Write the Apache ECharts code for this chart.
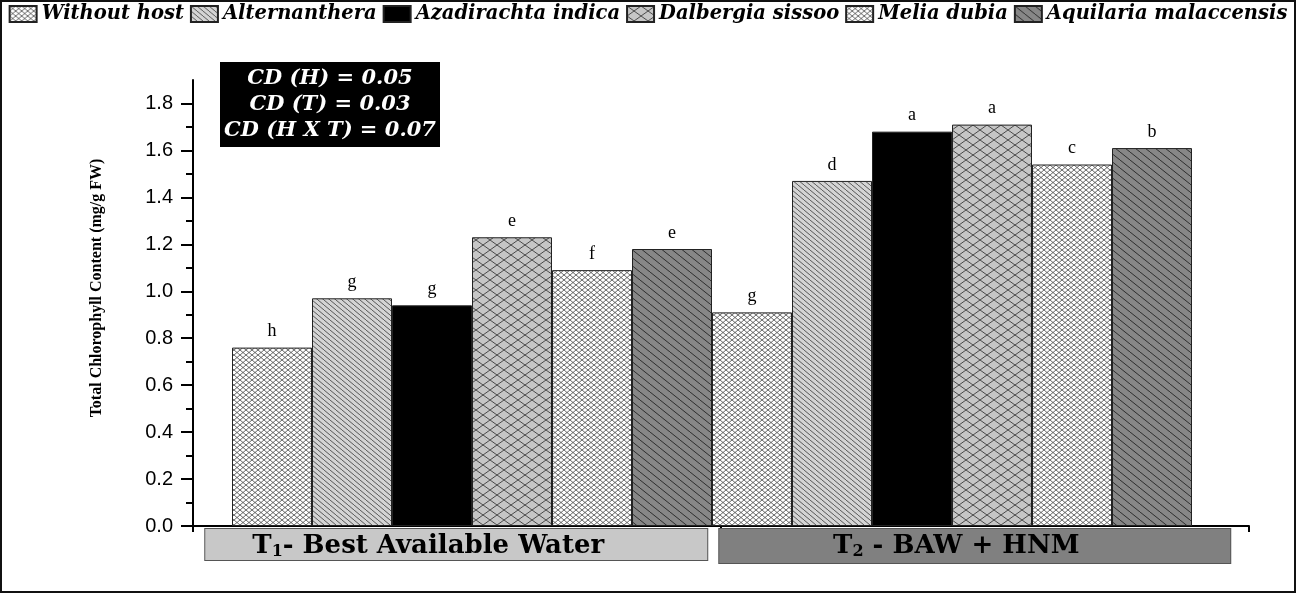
<!DOCTYPE html>
<html>
<head>
<meta charset="utf-8">
<script src="https://cdn.jsdelivr.net/npm/echarts@6/dist/echarts.min.js"></script>
<style>
html,body{margin:0;padding:0;background:#fff;}
#wrap{position:relative;width:1296px;height:593px;}
#chart{position:absolute;left:0;top:0;width:1296px;height:593px;}
#frame{position:absolute;left:0;top:0;width:1296px;height:593px;box-sizing:border-box;border:2px solid #111;pointer-events:none;}
</style>
</head>
<body>
<div id="wrap"><div id="chart"></div><div id="frame"></div></div>
<script>
// ---- data ----
const categories = ['T1- Best Available Water', 'T2 - BAW + HNM'];
const hosts = ['Without host', 'Alternanthera', 'Azadirachta indica', 'Dalbergia sissoo', 'Melia dubia', 'Aquilaria malaccensis'];
const withoutHost   = [0.76, 0.91];
const alternanthera = [0.97, 1.47];
const azadirachta   = [0.94, 1.68];
const dalbergia     = [1.23, 1.71];
const melia         = [1.09, 1.54];
const aquilaria     = [1.18, 1.61];
const lettersWithoutHost   = ['h', 'g'];
const lettersAlternanthera = ['g', 'd'];
const lettersAzadirachta   = ['g', 'a'];
const lettersDalbergia     = ['e', 'a'];
const lettersMelia         = ['f', 'c'];
const lettersAquilaria     = ['e', 'b'];
const cdLines = ['CD (H) = 0.05', 'CD (T) = 0.03', 'CD (H X T) = 0.07'];
const yAxisTitle = 'Total Chlorophyll Content (mg/g FW)';

// ---- patterns ----
function pattern(bg, fg, w, h, kind, lw) {
  const c = document.createElement('canvas');
  c.width = w; c.height = h;
  const ctx = c.getContext('2d');
  ctx.fillStyle = bg; ctx.fillRect(0, 0, w, h);
  ctx.strokeStyle = fg; ctx.lineWidth = lw;
  ctx.beginPath();
  for (let k = -1; k <= 1; k++) {
    ctx.moveTo(k * w, 0); ctx.lineTo(k * w + w, h);
    if (kind === 'cross') { ctx.moveTo(k * w, h); ctx.lineTo(k * w + w, 0); }
  }
  ctx.stroke();
  return { image: c, repeat: 'repeat' };
}
const fills = [
  pattern('#ffffff', '#444444', 6, 5, 'cross', 0.8),
  pattern('#d4d4d4', '#4a4a4a', 6, 5, 'diag', 0.9),
  '#000000',
  pattern('#c6c6c6', '#4a4a4a', 14, 10, 'cross', 1),
  pattern('#ffffff', '#444444', 6, 5, 'cross', 0.8),
  pattern('#878787', '#2e2e2e', 10, 8, 'diag', 1)
];
const values = [withoutHost, alternanthera, azadirachta, dalbergia, melia, aquilaria];
const letters = [lettersWithoutHost, lettersAlternanthera, lettersAzadirachta, lettersDalbergia, lettersMelia, lettersAquilaria];

const series = hosts.map((name, i) => ({
  name: name,
  type: 'bar',
  xAxisIndex: 1,
  yAxisIndex: 1,
  barGap: '0%',
  barCategoryGap: '0%',
  data: values[i],
  itemStyle: { color: fills[i], borderColor: '#222', borderWidth: 1 },
  label: {
    show: true, position: 'top', distance: 7,
    fontFamily: 'Liberation Serif', fontSize: 18, color: '#000',
    formatter: p => letters[i][p.dataIndex]
  },
  emphasis: { disabled: true }
}));

const chart = echarts.init(document.getElementById('chart'), null, { renderer: 'canvas' });
const option = {
  animation: false,
  backgroundColor: '#fff',
  legend: {
    top: -1, left: 'center',
    itemWidth: 27, itemHeight: 16, itemGap: 6,
    icon: 'rect',
    textStyle: { fontFamily: 'DejaVu Serif', fontStyle: 'italic', fontWeight: 'bold', fontSize: 19.5, color: '#000' },
    data: hosts
  },
  graphic: [{
    type: 'text', left: 220, top: 62,
    style: {
      text: cdLines.map(s => '{a|' + s + '}').join('\n'),
      fill: '#fff', backgroundColor: '#000',
      padding: [4, 8, 3, 8],
      rich: {
        a: { width: 204, align: 'center', fill: '#fff', fontFamily: 'DejaVu Serif', fontStyle: 'italic', fontWeight: 'bold', fontSize: 21, lineHeight: 26 }
      }
    }
  }],
  grid: [
    { left: 193, top: 80, width: 1056, height: 446 },
    { left: 232, top: 80, width: 960, height: 446 },
    { left: 197, top: 103.5, width: 1037, height: 422.5 }
  ],
  xAxis: [{
    type: 'category', gridIndex: 0, data: categories,
    axisLine: { lineStyle: { color: '#000', width: 2 } },
    axisTick: { show: true, length: 6, lineStyle: { color: '#000', width: 2 } },
    axisLabel: { show: false }
  }, {
    type: 'category', gridIndex: 1, data: categories,
    axisLine: { show: false }, axisTick: { show: false }, axisLabel: { show: false }
  }, {
    type: 'category', gridIndex: 2,
    data: [
      { value: categories[0], textStyle: { backgroundColor: '#c8c8c8', width: 446, height: 27, padding: [4, 56, 0, 0] } },
      { value: categories[1], textStyle: { backgroundColor: '#808080', width: 474, height: 30, padding: [4, 37, 0, 0] } }
    ],
    axisLine: { show: false }, axisTick: { show: false },
    axisLabel: {
      margin: 3, align: 'center',
      borderColor: '#555', borderWidth: 1,
      formatter: v => v.replace(/^T(\d)(.*)$/, '{b|T}{s|$1}{b|$2}'),
      rich: {
        b: { fontFamily: 'DejaVu Serif', fontWeight: 'bold', fontSize: 26, color: '#000', lineHeight: 27 },
        s: { fontFamily: 'DejaVu Serif', fontWeight: 'bold', fontSize: 16, color: '#000', lineHeight: 15, verticalAlign: 'bottom' }
      }
    }
  }],
  yAxis: [{
    type: 'value', gridIndex: 0, min: 0, max: 1.9,
    name: yAxisTitle, nameLocation: 'middle', nameGap: 88,
    nameTextStyle: { fontFamily: 'Liberation Serif', fontWeight: 'bold', fontSize: 16, color: '#000', padding: [0, 0, 0, 30] },
    axisLine: { show: true, lineStyle: { color: '#000', width: 2 } },
    axisTick: { show: false }, axisLabel: { show: false }, splitLine: { show: false }
  }, {
    type: 'value', gridIndex: 1, min: 0, max: 1.9, show: false
  }, {
    type: 'value', gridIndex: 2, min: 0, max: 1.8, interval: 0.2, offset: 4,
    axisLine: { show: false },
    axisTick: { show: true, length: 12, lineStyle: { color: '#000', width: 2 } },
    minorTick: { show: true, splitNumber: 2, length: 7, lineStyle: { color: '#000', width: 2 } },
    splitLine: { show: false },
    axisLabel: {
      margin: 20, fontFamily: 'Liberation Sans', fontSize: 20, color: '#000',
      formatter: v => v.toFixed(1)
    }
  }],
  series: series
};
chart.setOption(option);
</script>
</body>
</html>
